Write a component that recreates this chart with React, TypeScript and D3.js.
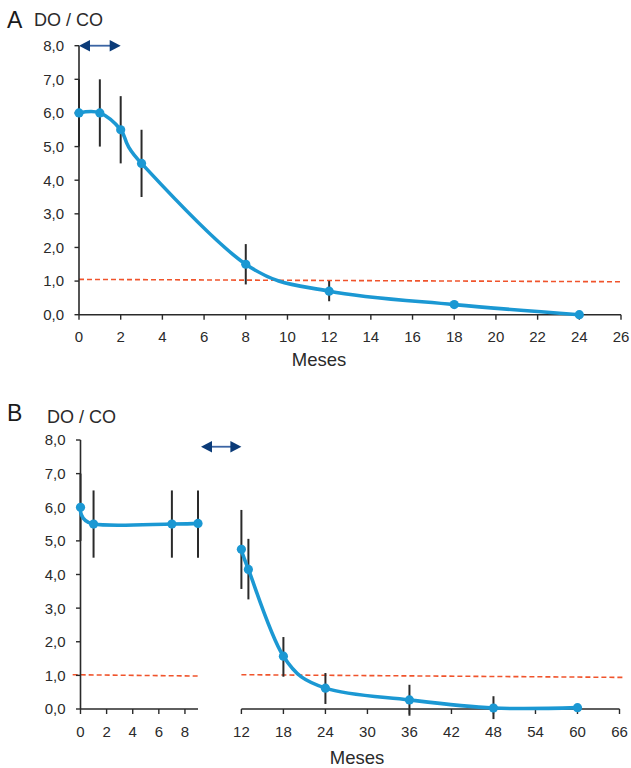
import React from "react";
import * as d3 from "d3";

// Panel A: months vs DO/CO ratio
const monthsA = [0, 1, 2, 3, 8, 12, 18, 24];
const ratioA = [6.0, 6.0, 5.5, 4.5, 1.5, 0.7, 0.3, 0.0];
const lowA = [5.0, 5.0, 4.5, 3.5, 0.9, 0.4, 0.22, -0.05];
const highA = [7.0, 7.0, 6.5, 5.5, 2.1, 1.0, 0.38, 0.05];

// Panel B: first phase (0-9 months) and second phase (12-60 months)
const monthsB1 = [0, 1, 7, 9];
const ratioB1 = [6.0, 5.5, 5.5, 5.52];
const lowB1 = [5.0, 4.5, 4.5, 4.5];
const highB1 = [7.0, 6.5, 6.5, 6.5];

const monthsB2 = [12, 13, 18, 24, 36, 48, 60];
const ratioB2 = [4.75, 4.15, 1.57, 0.62, 0.27, 0.03, 0.04];
const lowB2 = [3.57, 3.26, 0.96, 0.15, -0.2, -0.3, -0.02];
const highB2 = [5.92, 5.06, 2.14, 1.07, 0.72, 0.38, 0.1];

// reference (dashed) lines: [x, y] at both ends
const refA = [[0, 1.05], [26, 0.98]];
const refB1 = [[-0.6, 1.02], [9, 0.98]];
const refB2 = [[12, 1.02], [66.6, 0.94]];

const yTicks = [0, 1, 2, 3, 4, 5, 6, 7, 8];
const xTicksA = [0, 2, 4, 6, 8, 10, 12, 14, 16, 18, 20, 22, 24, 26];
const xTicksB1 = [0, 2, 4, 6, 8];
const xTicksB2 = [12, 18, 24, 30, 36, 42, 48, 54, 60, 66];

const FONT = "'Liberation Sans', Arial, Helvetica, sans-serif";
const BLUE = "#1b98d3";
const RED = "#f0542c";
const NAVY = "#0b3b78";
const INK = "#2a2a2a";

const fmt = (v: number) => d3.format(".1f")(v).replace(".", ",");

const line = d3.line<[number, number]>().curve(d3.curveCatmullRom.alpha(0));

function Series({ xs, ys, lo, hi, x, y }: any) {
  const pts: [number, number][] = xs.map((m: number, i: number) => [x(m), y(ys[i])]);
  return (
    <g>
      {xs.map((m: number, i: number) => (
        <line key={"e" + i} x1={x(m)} x2={x(m)} y1={y(lo[i])} y2={y(hi[i])} stroke={INK} strokeWidth={2} />
      ))}
      <path d={line(pts) || ""} fill="none" stroke={BLUE} strokeWidth={3.6} strokeLinecap="round" />
      {pts.map((p, i) => (
        <circle key={"c" + i} cx={p[0]} cy={p[1]} r={4.6} fill={BLUE} />
      ))}
    </g>
  );
}

function YAxis({ x0, y }: any) {
  return (
    <g>
      <line x1={x0} x2={x0} y1={y(0)} y2={y(8)} stroke={INK} strokeWidth={1.6} />
      {yTicks.map((t) => (
        <g key={t}>
          <line x1={x0 - 4.5} x2={x0} y1={y(t)} y2={y(t)} stroke={INK} strokeWidth={1.4} />
          <text x={x0 - 15} y={y(t)} dy="0.36em" textAnchor="end" fontSize={15} fill={INK} fontFamily={FONT}>
            {fmt(t)}
          </text>
        </g>
      ))}
    </g>
  );
}

function XAxis({ x, y0, ticks, from, to, labelY }: any) {
  return (
    <g>
      <line x1={x(from)} x2={x(to)} y1={y0} y2={y0} stroke={INK} strokeWidth={1.6} />
      {ticks.map((t: number) => (
        <g key={t}>
          <line x1={x(t)} x2={x(t)} y1={y0} y2={y0 + 5} stroke={INK} strokeWidth={1.4} />
          <text x={x(t)} y={labelY} textAnchor="middle" fontSize={15} fill={INK} fontFamily={FONT}>
            {t}
          </text>
        </g>
      ))}
    </g>
  );
}

function Arrow({ x1, x2, yy }: any) {
  const h = 11;
  const w = 5.8;
  return (
    <g>
      <line x1={x1 + h - 1} x2={x2 - h + 1} y1={yy} y2={yy} stroke="#3b64a3" strokeWidth={1.8} />
      <path d={`M${x1},${yy}L${x1 + h},${yy - w}L${x1 + h},${yy + w}Z`} fill={NAVY} />
      <path d={`M${x2},${yy}L${x2 - h},${yy - w}L${x2 - h},${yy + w}Z`} fill={NAVY} />
    </g>
  );
}

function RefLine({ seg, x, y }: any) {
  return (
    <line
      x1={x(seg[0][0])}
      y1={y(seg[0][1])}
      x2={x(seg[1][0])}
      y2={y(seg[1][1])}
      stroke={RED}
      strokeWidth={1.6}
      strokeDasharray="5,3"
    />
  );
}

export default function App() {
  const xA = d3.scaleLinear().domain([0, 26]).range([79, 621]);
  const yA = d3.scaleLinear().domain([0, 8]).range([314.7, 45.7]);

  const xB1 = d3.scaleLinear().domain([0, 9]).range([80.5, 198]);
  const xB2 = d3.scaleLinear().domain([12, 66]).range([241.4, 619.5]);
  const yB = d3.scaleLinear().domain([0, 8]).range([709, 440]);

  return (
    <div style={{ position: "absolute", left: 0, top: 0 }}>
      <svg width={631} height={768} style={{ display: "block", background: "#fff" }}>
        {/* Panel A */}
        <text x={7} y={28} fontSize={23} fill="#1a1a1a" fontFamily={FONT}>A</text>
        <text x={34} y={26} fontSize={18} fill={INK} fontFamily={FONT}>DO / CO</text>
        <RefLine seg={refA} x={xA} y={yA} />
        <YAxis x0={xA(0)} y={yA} />
        <XAxis x={xA} y0={yA(0)} ticks={xTicksA} from={0} to={26} labelY={342} />
        <text x={319} y={366} textAnchor="middle" fontSize={18.5} fill={INK} fontFamily={FONT}>Meses</text>
        <Arrow x1={xA(0)} x2={xA(2)} yy={yA(8)} />
        <Series xs={monthsA} ys={ratioA} lo={lowA} hi={highA} x={xA} y={yA} />

        {/* Panel B */}
        <text x={7} y={421} fontSize={23} fill="#1a1a1a" fontFamily={FONT}>B</text>
        <text x={47} y={422.5} fontSize={18} fill={INK} fontFamily={FONT}>DO / CO</text>
        <RefLine seg={refB1} x={xB1} y={yB} />
        <RefLine seg={refB2} x={xB2} y={yB} />
        <YAxis x0={xB1(0)} y={yB} />
        <XAxis x={xB1} y0={yB(0)} ticks={xTicksB1} from={0} to={9} labelY={737} />
        <XAxis x={xB2} y0={yB(0)} ticks={xTicksB2} from={12} to={66} labelY={737} />
        <text x={357} y={764} textAnchor="middle" fontSize={18.5} fill={INK} fontFamily={FONT}>Meses</text>
        <Arrow x1={xB1(9) + 3} x2={xB2(12)} yy={yB(7.8)} />
        <Series xs={monthsB1} ys={ratioB1} lo={lowB1} hi={highB1} x={xB1} y={yB} />
        <Series xs={monthsB2} ys={ratioB2} lo={lowB2} hi={highB2} x={xB2} y={yB} />
      </svg>
    </div>
  );
}
